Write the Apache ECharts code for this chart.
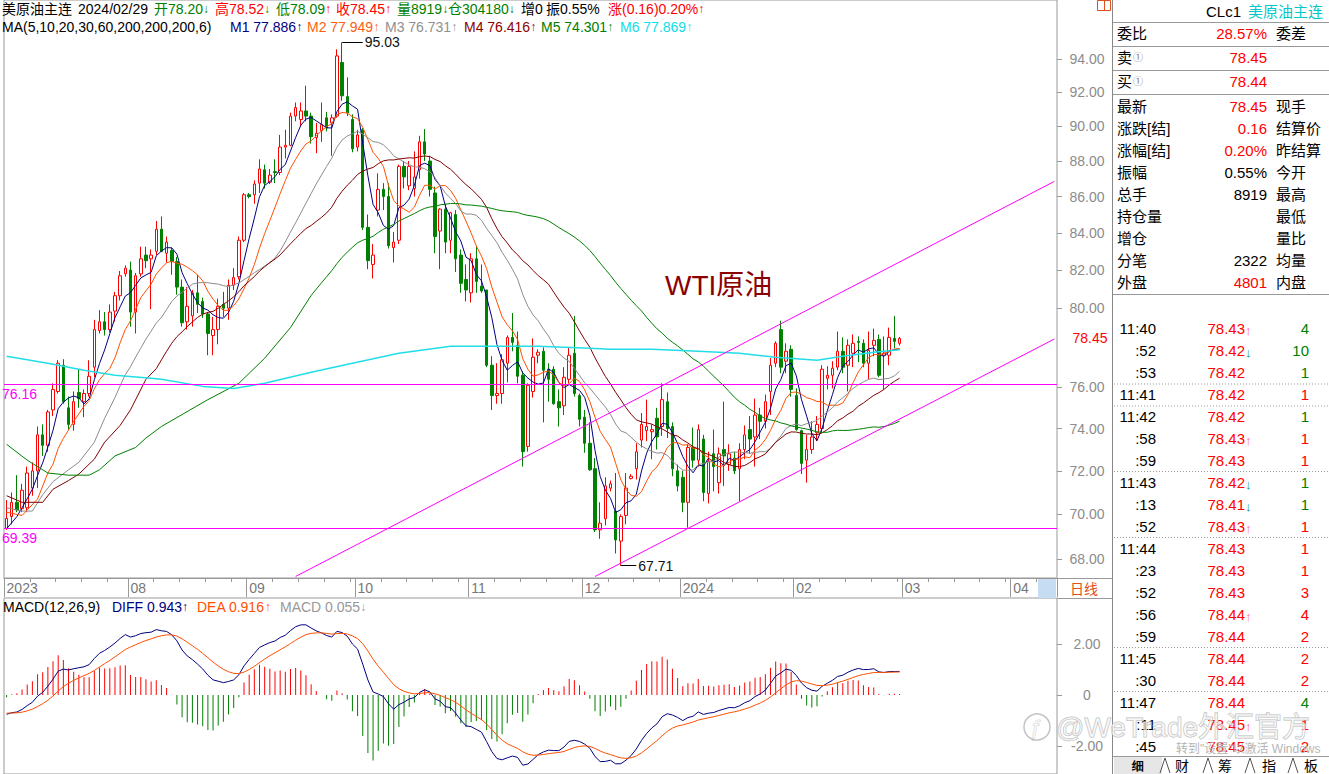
<!DOCTYPE html>
<html><head><meta charset="utf-8">
<script src="https://cdn.jsdelivr.net/npm/echarts@6/dist/echarts.min.js"></script>
<style>html,body{margin:0;padding:0;background:#fff;}#c{width:1329px;height:774px;}</style>
</head><body><div id="c"></div>
<script>
// ---------- DATA ----------
const opens  = [69.37,69.90,70.55,70.26,70.30,71.20,72.00,73.70,73.20,74.90,75.80,77.10,75.00,74.20,75.75,75.30,75.70,77.00,78.85,79.30,78.90,79.85,80.65,81.80,82.00,79.80,81.80,82.80,82.60,83.00,
84.20,82.90,83.05,82.45,81.10,79.30,79.60,80.80,80.35,79.70,78.60,78.90,80.20,80.00,81.20,81.65,83.60,86.10,86.10,86.75,87.50,86.80,87.40,87.35,88.80,88.90,90.60,90.40,90.90,90.60,
89.35,89.75,90.50,90.20,90.60,93.80,91.75,90.40,88.80,89.80,84.30,82.30,85.25,86.40,86.00,83.20,83.60,87.70,86.60,86.45,87.50,89.10,88.00,86.20,84.10,85.30,83.60,85.00,82.80,81.50,
80.80,82.60,81.15,80.95,77.10,75.60,75.70,77.20,78.50,78.10,76.60,73.15,75.80,77.60,77.80,76.90,76.90,75.30,75.10,76.40,77.70,75.60,74.55,73.30,72.10,69.30,69.80,71.20,70.15,68.80,
69.95,71.65,72.10,73.45,73.90,73.85,74.50,74.10,75.30,74.10,72.00,71.70,70.55,73.10,72.50,73.50,70.95,72.80,71.45,73.00,72.30,72.60,72.10,73.00,73.95,73.60,74.65,74.35,75.80,77.20,
78.90,77.30,77.90,75.60,73.90,72.50,73.00,73.80,74.00,76.45,76.60,77.00,77.80,77.10,77.70,78.30,78.20,77.20,78.10,78.40,77.60,77.60,78.45,78.20];
const closes = [69.82,70.55,70.20,71.10,71.90,72.00,73.70,73.20,74.80,75.90,77.20,75.30,74.20,75.30,75.45,75.70,76.55,78.90,79.30,78.90,79.80,80.65,81.70,82.10,79.80,81.70,82.60,82.50,82.80,84.20,
83.00,83.50,82.45,81.10,79.25,80.10,80.80,80.20,79.70,78.70,78.90,80.10,80.00,81.20,81.60,83.60,86.10,86.00,86.70,87.55,86.75,87.20,87.35,88.80,88.90,90.60,91.10,90.90,90.60,89.40,
89.60,90.10,89.90,90.50,94.20,91.80,90.80,88.70,89.50,84.30,82.50,82.80,86.40,86.00,83.30,83.50,87.70,87.10,87.70,87.10,89.10,88.40,86.40,83.80,85.30,83.50,85.10,82.60,81.30,80.95,
82.60,81.40,80.90,77.10,75.60,75.70,77.37,78.50,78.25,76.55,72.90,76.10,77.50,77.75,76.85,76.40,75.20,75.00,76.50,77.60,75.70,74.45,73.30,72.05,69.30,69.60,71.30,71.40,68.85,69.90,
71.20,71.75,72.90,74.20,74.10,73.95,73.60,75.40,74.00,72.10,71.30,70.55,73.10,72.50,73.95,71.00,72.45,72.20,72.80,72.70,72.80,72.00,73.00,73.70,73.50,74.65,74.35,75.30,77.10,78.20,
77.00,77.80,75.90,73.95,72.35,73.00,73.60,74.20,76.90,76.60,76.95,77.80,77.00,78.10,78.20,78.25,77.20,77.85,78.35,76.60,77.70,78.50,78.30,78.45];
const lows   = [69.30,69.55,70.10,70.10,70.10,70.85,71.20,72.70,72.90,74.60,75.70,75.20,73.95,73.90,75.00,74.55,75.55,76.50,78.70,78.60,78.75,79.30,80.40,81.65,79.05,78.70,81.65,82.10,79.95,82.80,
82.95,82.40,81.75,80.70,79.05,78.90,79.05,79.75,79.50,77.60,77.60,78.15,79.55,79.40,80.95,81.50,83.50,85.90,85.60,86.20,86.45,86.70,86.75,87.20,88.15,88.85,90.30,90.00,90.30,89.00,
88.45,89.10,89.70,88.30,90.50,91.50,90.60,88.50,88.55,84.15,82.05,81.55,84.90,85.25,83.15,82.40,83.40,86.45,86.35,86.00,87.00,88.00,86.00,82.90,82.05,82.90,82.90,81.90,80.80,80.35,
80.30,80.80,80.80,77.00,74.90,75.20,75.20,76.25,77.80,76.20,72.20,72.90,75.50,77.20,74.30,75.30,75.15,74.10,74.65,76.20,75.55,74.10,72.85,72.00,69.20,68.90,69.50,71.05,68.25,67.71,
69.55,71.60,71.60,73.10,73.40,72.55,73.00,73.65,73.55,71.75,71.05,70.10,69.40,72.15,72.20,70.60,70.50,71.05,70.95,71.30,72.00,71.85,70.60,72.55,72.80,72.20,73.50,74.00,74.65,77.00,
76.70,76.70,75.55,73.90,71.85,71.45,72.80,73.40,73.80,75.90,75.95,76.85,76.70,75.80,77.00,77.25,77.00,76.40,77.55,76.50,75.90,77.10,77.95,78.09];
const highs  = [70.65,71.00,71.80,71.40,72.20,72.40,74.10,74.20,74.90,76.20,77.35,77.40,75.55,75.80,76.90,75.90,77.35,79.40,79.90,79.80,80.20,80.85,81.95,82.25,82.45,81.85,83.25,83.25,83.10,84.65,
84.90,83.80,83.20,82.70,81.50,81.10,80.95,81.75,80.55,79.80,79.55,80.50,80.85,81.50,82.10,83.80,86.20,86.20,86.90,88.10,87.80,87.55,88.10,89.50,89.80,90.80,91.40,91.40,92.40,90.80,
90.20,91.40,90.85,90.70,94.60,95.03,92.90,90.70,89.80,89.90,85.00,83.40,87.30,86.75,86.75,84.05,87.80,88.00,88.00,88.55,89.45,89.84,88.30,86.55,85.35,85.60,85.15,85.25,83.10,82.30,
82.90,83.30,82.30,80.95,77.55,77.20,77.65,78.60,79.75,78.80,76.80,76.20,78.45,77.90,78.00,77.20,77.05,75.90,77.00,78.00,79.60,75.70,74.90,74.30,72.60,70.55,71.70,71.55,71.90,70.00,
71.90,71.85,73.30,74.75,75.40,74.20,75.00,76.20,75.75,74.30,72.30,72.00,73.25,74.05,74.20,73.70,72.90,73.95,73.10,75.30,73.25,72.90,73.30,74.15,74.60,75.45,75.00,75.65,77.45,78.30,
79.35,78.20,78.10,75.95,73.95,73.70,74.35,74.60,77.10,77.05,77.30,78.80,78.50,78.40,78.65,78.55,78.40,78.80,78.95,78.65,78.55,79.00,79.60,78.52];

// x axis: month tick labels and the category index where each month starts
const monthLabels = ['2023','08','09','10','11','12','2024','02','03','04'];
const monthStart  = [0,24,47,68,90,112,131,153,174,195];
const slotCount = 204;               // trading-day slots shown (incl. empty future)
const categories = Array.from({length: slotCount}, (_, i) => 'd' + i);

// moving-average values read off the picture where the window is not yet full ([index, value])
const ma5Head  = [[0,69.35],[2,69.90]];
const ma10Head = [[0,70.10],[3,69.95],[6,70.70],[8,71.90]];
const ma20Head = [[0,70.30],[3,70.15],[5,70.15],[7,70.90],[9,71.50],[12,72.05],[14,72.40],[17,73.35]];
const ma30Head = [[0,70.85],[3,70.55],[7,70.55],[9,71.15],[12,71.55],[14,71.85],[17,72.55],[19,73.35],[22,74.15],[24,74.90],[27,76.40]];
const ma60Head = [[0,73.25],[4,72.50],[8,71.90],[12,71.80],[16,71.80],[18,72.05],[21,72.70],[25,73.10],[27,73.55],[30,74.10],[39,75.40],[45,76.20],[50,77.45],[55,79.00]];
const ma200Pts = [[0,77.55],[8,77.20],[15,76.85],[21,76.60],[28,76.45],[30,76.40],[38,76.05],[44,75.95],[50,76.20],[59,76.75],[67,77.20],[76,77.70],[86,78.05],[103,78.05],[113,77.95],[117,77.90],[125,77.90],[134,77.80],[142,77.70],[149,77.50],[157,77.35],[162,77.55],[168,77.75],[173,77.87]];

// MACD warm start (value just before first bar)
const emaSeed12 = 70.60, emaSeed26 = 71.35, deaSeed = -0.70;

// reference lines
const hLevels = [76.16, 69.39];
const channelUpper = [[56, 67.24], [203, 86.85]];
const channelLower = [[114, 67.24], [203, 78.42]];
const peakMark = {from: 65, to: 68.5, value: 95.03};
const troughMark = {from: 119, to: 122.3, value: 67.71};
const lastPrice = 78.45;
const priceTicks = [68,70,72,74,76,78.45,80,82,84,86,88,90,92,94];
const macdTicks = [-2, 0, 2];

// ---------- derived series ----------
function movingAvg(n, head) {
  const h = {}; head.forEach(p => h[p[0]] = p[1]);
  return closes.map((c, i) => {
    if (i >= n - 1) { let s = 0; for (let k = i - n + 1; k <= i; k++) s += closes[k]; return +(s / n).toFixed(3); }
    return h[i] !== undefined ? h[i] : null;
  });
}
function sparse(pts) { const a = new Array(closes.length).fill(null); pts.forEach(p => a[p[0]] = p[1]); return a; }
const ma5 = movingAvg(5, ma5Head), ma10 = movingAvg(10, ma10Head), ma20 = movingAvg(20, ma20Head),
      ma30 = movingAvg(30, ma30Head), ma60 = movingAvg(60, ma60Head), ma200 = sparse(ma200Pts);
const diff = [], dea = [], macd = [];
(function () {
  let e12 = emaSeed12, e26 = emaSeed26, d = deaSeed;
  closes.forEach((c, i) => {
    e12 = e12 + (c - e12) * 2 / 13; e26 = e26 + (c - e26) * 2 / 27;
    const df = e12 - e26; d = d + (df - d) * 2 / 10;
    diff.push(+df.toFixed(4)); dea.push(+d.toFixed(4)); macd.push(+(2 * (df - d)).toFixed(4));
  });
})();
const kData = opens.map((o, i) => [o, closes[i], lows[i], highs[i]]);

// ---------- layout ----------
const FONT = '"Liberation Sans","Noto Sans CJK SC",sans-serif';
const gridMain = {left: 4, top: 0, width: 1053, height: 578};
const gridMacd = {left: 4, top: 598, width: 1053, height: 176};
const LOG94 = Math.log(94);
const yMin = Math.exp(LOG94 - (578 - 59.2) / 1544), yMax = Math.exp(LOG94 + 59.2 / 1544);

const chart = echarts.init(document.getElementById('c'), null, {renderer: 'svg', width: 1329, height: 774});

function T(x, y, text, fill, size, extra) {
  return Object.assign({type: 'text', x: x, y: y, silent: true, z: 100,
    style: Object.assign({text: text, fill: fill, font: (size || 14) + 'px ' + FONT,
      align: 'left', textAlign: 'left', verticalAlign: 'middle', textVerticalAlign: 'middle'}, (extra || {}))});
}
function RT(x, y, segs, size) {   // rich text piece: segs = [[text, color, fontSize?], ...]
  const rich = {}; let txt = '';
  segs.forEach((s, i) => { rich['s' + i] = {fill: s[1], color: s[1], fontSize: s[2] || size, fontFamily: FONT}; txt += '{s' + i + '|' + s[0] + '}'; });
  return {type: 'text', x: x, y: y, silent: true, z: 100,
    style: {text: txt, rich: rich, font: size + 'px ' + FONT, fill: '#000', align: 'left', textAlign: 'left', verticalAlign: 'middle', textVerticalAlign: 'middle'}};
}
function L(x1, y1, x2, y2, color, dash) {
  return {type: 'line', silent: true, z: 90, shape: {x1, y1, x2, y2},
    style: {stroke: color || '#999', lineWidth: 1, lineDash: dash || null}};
}
const UP = '↑', DN = '↓';
const GRN = '#008000', RED = '#ff0000';
const g = [];
// header line 1: [x, text, color, arrow, arrowColor]
const head1 = [[2,'美原油主连','#000'],[78,'2024/02/29','#000'],[154,'开78.20',GRN,DN,GRN],[215,'高78.52',RED,DN,GRN],
  [276,'低78.09',GRN,UP,RED],[336,'收78.45',RED,UP,RED],[397,'量8919',GRN,DN,GRN],[448,'仓304180',GRN,DN,GRN],
  [521,'增0','#000'],[546,'振0.55%','#000'],[608,'涨(0.16)0.20%',RED,UP,RED]];
head1.forEach(s => g.push(RT(s[0], 9, s[3] ? [[s[1], s[2]], [s[3], s[4], 12]] : [[s[1], s[2]]], 14)));
// header line 2
const head2 = [[2,'MA(5,10,20,30,60,200,200,200,6)','#000'],[230,'M1 77.886','#000080',UP],[307,'M2 77.949','#ff6010',UP],
  [385,'M3 76.731','#909090',UP],[464,'M4 76.416','#8b0000',UP],[541,'M5 74.301','#008000',UP],[620,'M6 77.869','#10dde8',UP]];
head2.forEach(s => g.push(RT(s[0], 27, s[3] ? [[s[1], s[2]], [s[3], s[2], 12]] : [[s[1], s[2]]], 14)));
// MACD header
const head3 = [[3,'MACD(12,26,9)','#000'],[112,'DIFF 0.943','#00007f',UP],[197,'DEA 0.916','#ff5000',UP],[280,'MACD 0.055','#999',DN]];
head3.forEach(s => g.push(RT(s[0], 607, s[3] ? [[s[1], s[2]], [s[3], s[2], 12]] : [[s[1], s[2]]], 14)));
// annotation text
g.push(T(665, 285, 'WTI原油', '#8b0000', 28));
// frame lines of price-axis column and side panel
g.push(L(1112.5, 0, 1112.5, 774, '#888'));
g.push(L(1057, 578.5, 1112, 578.5, '#999'), L(1057, 598.5, 1112, 598.5, '#999'));
g.push({type: 'rect', silent: true, z: 80, shape: {x: 1038, y: 579, width: 18, height: 19}, style: {fill: '#c5dcf2'}});
g.push(T(1070, 589, '日线', '#e0501a', 14));
g.push({type: 'rect', silent: true, z: 80, shape: {x: 1097.5, y: 0.5, width: 13, height: 10}, style: {fill: 'none', stroke: '#e0501a'}});
g.push(L(1104.5, 0.5, 1104.5, 10.5, '#e0501a'));
// side panel
[22.5, 46.5, 70.5, 94.5, 294.5].forEach(y => g.push(L(1113, y, 1329, y, '#999')));
g.push(T(1206, 11, 'CLc1', '#000', 15), T(1248, 11, '美原油主连', '#00c8c8', 15));
g.push(T(1117, 33.5, '委比', '#000', 15), T(1267, 33.5, '28.57%', RED, 15, {align: 'right', textAlign: 'right'}), T(1276, 33.5, '委差', '#000', 15));
g.push(T(1117, 57.5, '卖', '#000', 15), T(1133, 57.5, '①', '#777', 10), T(1267, 57.5, '78.45', RED, 15, {align: 'right', textAlign: 'right'}));
g.push(T(1117, 81.5, '买', '#000', 15), T(1133, 81.5, '①', '#777', 10), T(1267, 81.5, '78.44', RED, 15, {align: 'right', textAlign: 'right'}));
const panelRows = [['最新','78.45',RED,'现手'],['涨跌[结]','0.16',RED,'结算价'],['涨幅[结]','0.20%',RED,'昨结算'],
  ['振幅','0.55%','#000','今开'],['总手','8919','#000','最高'],['持仓量','','#000','最低'],['增仓','','#000','量比'],
  ['分笔','2322','#000','均量'],['外盘','4801',RED,'内盘']];
panelRows.forEach((r, i) => {
  const y = 106 + i * 22;
  g.push(T(1117, y, r[0], '#000', 15), T(1267, y, r[1], r[2], 15, {align: 'right', textAlign: 'right'}), T(1276, y, r[3], '#000', 15));
});
const tickTimes = ['11:40',':52',':53','11:41','11:42',':58',':59','11:43',':13',':52','11:44',':23',':52',':56',':59','11:45',':30','11:47',':11',':45'];
const tickPrices = ['78.43','78.42','78.42','78.42','78.42','78.43','78.43','78.42','78.41','78.43','78.43','78.43','78.43','78.44','78.44','78.44','78.44','78.44','78.45','78.45'];
const tickArrows = ['↑','↓','','','','↑','','↓','↓','↑','','','','↑','','','','','↑',''];
const tickVols = ['4','10','1','1','1','1','1','1','1','1','1','1','3','4','2','2','2','4','1','2'];
const tickVolUp = [0,0,0,1,0,1,1,0,0,1,1,1,1,1,1,1,1,0,1,1];
tickTimes.forEach((t, i) => {
  const y = 328.5 + i * 22.02;
  g.push(T(1156, y, t, '#000', 15, {align: 'right', textAlign: 'right'}));
  g.push(T(1245, y, tickPrices[i], RED, 15, {align: 'right', textAlign: 'right'}));
  if (tickArrows[i]) g.push(T(1245, y + 2, tickArrows[i], tickArrows[i] === '↑' ? '#ff5aa0' : '#009a9a', 13));
  g.push(T(1309, y, tickVols[i], tickVolUp[i] ? RED : GRN, 15, {align: 'right', textAlign: 'right'}));
});
[384, 406, 471.5, 537.5, 647.5, 691.5].forEach(y => g.push(L(1114, y, 1329, y, '#999', [1, 2])));
// bottom tabs
g.push({type: 'rect', silent: true, z: 80, shape: {x: 1114, y: 757, width: 48, height: 17}, style: {fill: '#e6e6e6'}});
g.push(L(1113, 756.5, 1329, 756.5, '#999'));
[['细',1132,true],['财',1175],['筹',1218],['指',1262],['板',1304]].forEach(s =>
  g.push(T(s[1], 766, s[0], '#000', 14, s[2] ? {fontWeight: 'bold', font: 'bold 14px ' + FONT} : {})));
[1160, 1203, 1245, 1288].forEach(x => { g.push(L(x, 773, x + 5, 758, '#555'), L(x + 5, 758, x + 10, 773, '#555')); });
// watermark overlays (as in the screenshot)
g.push({type: 'circle', silent: true, z: 200, shape: {cx: 1037, cy: 727, r: 13}, style: {fill: 'rgba(255,255,255,0.4)', stroke: '#c4c4c4', lineWidth: 1.5}});
g.push(T(1030, 727, 'ƒ', 'rgba(255,255,255,0.5)', 22, {stroke: '#c4c4c4', lineWidth: 1}));
g.push(T(1056, 727, '@WeTrade外汇官方', 'rgba(255,255,255,0.55)', 28, {stroke: '#bdbdbd', lineWidth: 1}));
g.push(T(1176, 749, '转到"设置"以激活 Windows', '#b5b5b5', 12));

// mark lines on the candle series
const markData = [];
hLevels.forEach(v => markData.push({yAxis: v, lineStyle: {color: '#ff00ff', width: 1, type: 'solid'},
  label: {show: true, position: 'insideStartBottom', formatter: v.toFixed(2), color: '#ff00ff', fontSize: 14, fontFamily: FONT, distance: [-2, 3]}}));
[channelUpper, channelLower].forEach(c => markData.push([
  {coord: c[0], lineStyle: {color: '#ff00ff', width: 1, type: 'solid'}, label: {show: false}}, {coord: c[1]}]));
[peakMark, troughMark].forEach(m => markData.push([
  {coord: [m.from, m.value], lineStyle: {color: '#000', width: 1, type: 'solid'},
   label: {show: true, position: 'end', formatter: m.value.toFixed(2), color: '#111', fontSize: 14, fontFamily: FONT, distance: 2}},
  {coord: [m.to, m.value]}]));

const isMonth = (i) => monthStart.indexOf(i) >= 0;
const isMinor = (i) => { if (isMonth(i)) return false; let s = 0; monthStart.forEach(m => { if (m <= i) s = m; }); return (i - s) % 5 === 0; };

const lineS = (name, data, color, w) => ({name, type: 'line', data, xAxisIndex: 0, yAxisIndex: 0, showSymbol: false, symbol: 'none',
  connectNulls: true, silent: true, lineStyle: {color, width: w || 1}, itemStyle: {color}, z: 3});

chart.setOption({
  animation: false, backgroundColor: '#fff',
  textStyle: {fontFamily: FONT},
  grid: [Object.assign({show: true, borderColor: '#999', borderWidth: 1, containLabel: false}, gridMain),
         Object.assign({show: true, borderColor: '#999', borderWidth: 1, containLabel: false}, gridMacd)],
  xAxis: [
    {type: 'category', gridIndex: 0, data: categories, boundaryGap: true, position: 'bottom',
     axisLine: {show: true, lineStyle: {color: '#999'}},
     axisTick: {show: true, interval: (i) => isMonth(i), length: 19, lineStyle: {color: '#999'}},
     axisLabel: {show: true, interval: (i) => isMonth(i), formatter: (v, i) => monthLabels[monthStart.indexOf(i)] || '',
       color: '#777', fontSize: 14, fontFamily: FONT, align: 'left', margin: 3},
     splitLine: {show: false}},
    {type: 'category', gridIndex: 0, data: categories, boundaryGap: true, position: 'bottom',
     axisLine: {show: false}, axisLabel: {show: false}, splitLine: {show: false},
     axisTick: {show: true, interval: (i) => isMinor(i), length: 4, lineStyle: {color: '#999'}}},
    {type: 'category', gridIndex: 1, data: categories, boundaryGap: true, show: false}
  ],
  yAxis: [
    {type: 'log', logBase: 10, gridIndex: 0, position: 'right', min: yMin, max: yMax, scale: true,
     axisLine: {show: false}, splitLine: {show: false},
     axisTick: {show: true, customValues: priceTicks.filter(v => v !== lastPrice), length: 5, lineStyle: {color: '#999'}},
     axisLabel: {show: true, customValues: priceTicks,
       formatter: (v) => (Math.abs(v - lastPrice) < 1e-6 ? '{last|' + lastPrice.toFixed(2) + '}' : (+v).toFixed(2)),
       rich: {last: {color: RED, fontSize: 14, fontFamily: FONT, backgroundColor: '#fff', padding: [1, 0, 1, 6]}},
       color: '#8c8c8c', fontSize: 14, fontFamily: FONT, align: 'center', margin: 30}},
    {type: 'value', gridIndex: 1, position: 'right', min: -3.098, max: 3.804,
     axisLine: {show: false}, splitLine: {show: false},
     axisTick: {show: true, customValues: macdTicks, length: 5, lineStyle: {color: '#999'}},
     axisLabel: {show: true, customValues: macdTicks, formatter: (v) => (+v === 0 ? '0' : (+v).toFixed(2)), color: '#8c8c8c',
       fontSize: 14, fontFamily: FONT, align: 'center', margin: 30}}
  ],
  series: [
    {name: 'K', type: 'candlestick', data: kData, xAxisIndex: 0, yAxisIndex: 0, barWidth: 3, silent: true, z: 2,
     itemStyle: {color: '#ffffff', color0: GRN, borderColor: RED, borderColor0: GRN, borderWidth: 1},
     markLine: {silent: true, symbol: ['none', 'none'], animation: false, data: markData}},
    lineS('MA5', ma5, '#000080'), lineS('MA10', ma10, '#ff5000'), lineS('MA20', ma20, '#8c8c8c'),
    lineS('MA30', ma30, '#800000'), lineS('MA60', ma60, '#008000'), lineS('MA200', ma200, '#22dde8', 1.5),
    {name: 'MACD', type: 'bar', data: macd, xAxisIndex: 2, yAxisIndex: 1, barWidth: 1, silent: true,
     itemStyle: {color: (p) => p.value >= 0 ? RED : GRN}},
    {name: 'DIFF', type: 'line', data: diff, xAxisIndex: 2, yAxisIndex: 1, showSymbol: false, symbol: 'none', silent: true,
     lineStyle: {color: '#00007f', width: 1}},
    {name: 'DEA', type: 'line', data: dea, xAxisIndex: 2, yAxisIndex: 1, showSymbol: false, symbol: 'none', silent: true,
     lineStyle: {color: '#ff5000', width: 1}}
  ],
  graphic: {elements: g}
});
</script>
</body></html>
